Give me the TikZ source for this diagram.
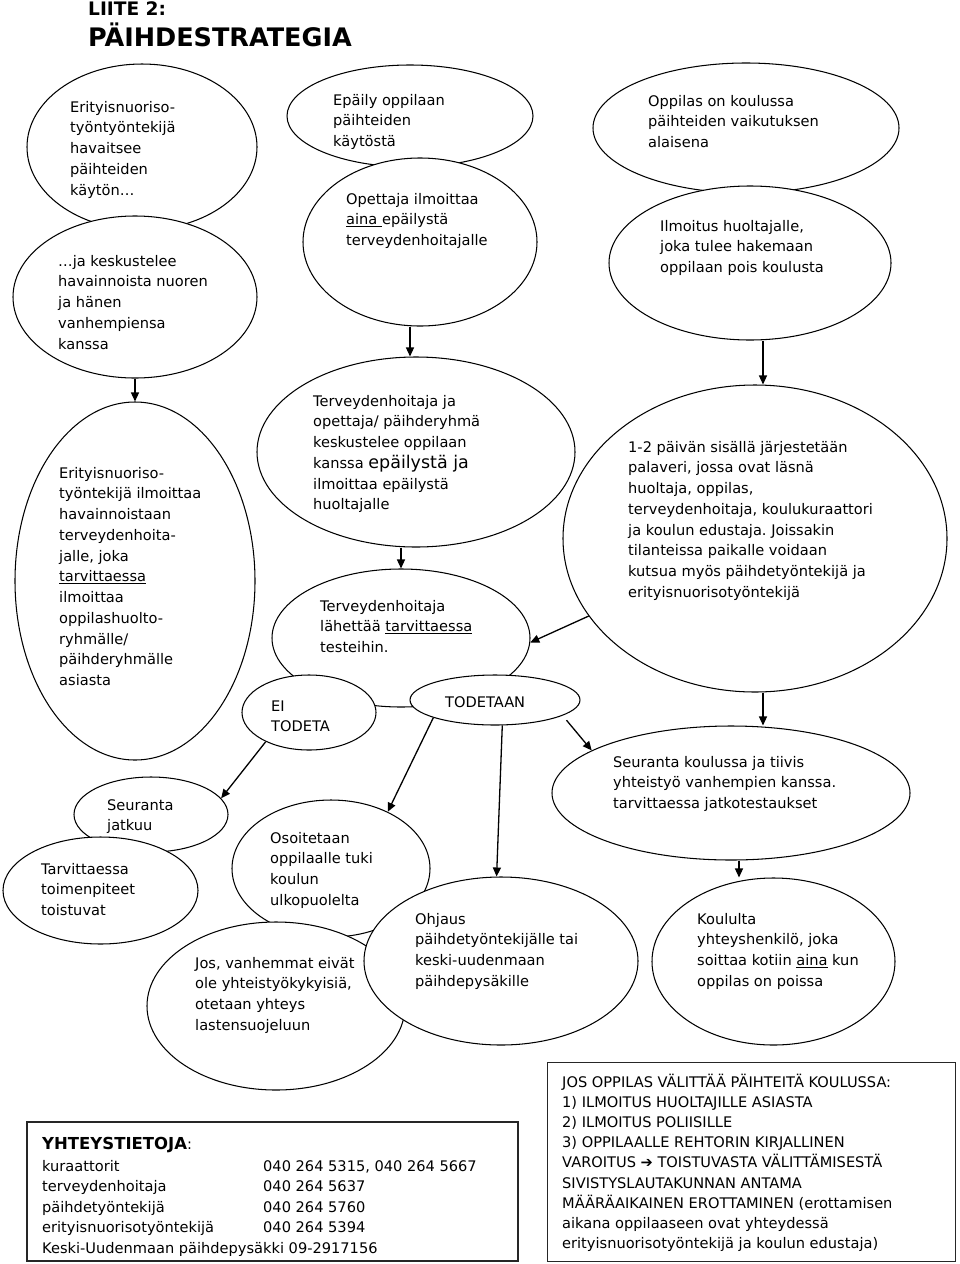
\documentclass[tikz,border=0pt]{standalone}
\usepackage{fontspec}
\setmainfont{DejaVu Sans}
\usetikzlibrary{arrows.meta,shapes.geometric}
\newcommand\mlines[1]{\begin{tabular}[t]{@{}l@{}}#1\end{tabular}}
\frenchspacing
\begin{document}
\begin{tikzpicture}[x=1pt,y=-1pt,
  ell/.style={ellipse,draw=black,line width=1.05pt,fill=white,inner sep=0pt},
  txt/.style={anchor=base west,inner sep=0pt,font=\fontsize{14.6}{20.75}\selectfont},
  arr/.style={line width=1.3pt,-{Triangle[length=9pt,width=8pt]}},
  boxline/.style={draw=black!85,line width=1.4pt}]
\useasboundingbox[fill=white] (0,0) rectangle (960,1264);
% title
\node[anchor=base west,inner sep=0pt,font=\bfseries\fontsize{18.6}{20}\selectfont] (tA) at (88,15) {LIITE 2:};
\node[anchor=base west,inner sep=0pt,font=\bfseries\fontsize{25.5}{28}\selectfont] (tB) at (88,46.5) {PÄIHDESTRATEGIA};
% ellipses
\node[ell,minimum width=230pt,minimum height=166pt] (e1) at (142,147) {};
\node[ell,minimum width=244pt,minimum height=162pt] (e2) at (135,297) {};
\node[ell,minimum width=246pt,minimum height=102pt] (e3) at (410,116) {};
\node[ell,minimum width=234pt,minimum height=168pt] (e4) at (420,242) {};
\node[ell,minimum width=306pt,minimum height=130pt] (e6) at (746,128) {};
\node[ell,minimum width=282pt,minimum height=154pt] (e7) at (750,263) {};
\node[ell,minimum width=240pt,minimum height=358pt] (e8) at (135,581) {};
\node[ell,minimum width=318pt,minimum height=190pt] (e5) at (416,452) {};
\node[ell,minimum width=258pt,minimum height=138pt] (e10) at (401,638) {};
\node[ell,minimum width=134pt,minimum height=75pt] (eEi) at (309,712.5) {};
\node[ell,minimum width=170pt,minimum height=50pt] (eTod) at (495,700) {};
\node[ell,minimum width=384pt,minimum height=307pt] (e9) at (755,538.5) {};
\node[ell,minimum width=358pt,minimum height=134pt] (e11) at (731,793) {};
\node[ell,minimum width=243pt,minimum height=167pt] (e12) at (773.5,961.5) {};
\node[ell,minimum width=154pt,minimum height=75pt] (sj) at (151,814.5) {};
\node[ell,minimum width=195pt,minimum height=107pt] (tt) at (100.5,890.5) {};
\node[ell,minimum width=198pt,minimum height=137pt] (os) at (331,868.5) {};
\node[ell,minimum width=258pt,minimum height=168pt] (jos) at (276,1006) {};
\node[ell,minimum width=274pt,minimum height=168pt] (oh) at (501,961) {};
% texts
\node[txt] (x1) at (70,112) {\mlines{Erityisnuoriso-\\työntyöntekijä\\havaitsee\\päihteiden\\käytön…}};
\node[txt] (x2) at (58,266) {\mlines{…ja keskustelee\\havainnoista nuoren\\ja hänen\\vanhempiensa\\kanssa}};
\node[txt] (x3) at (333,105) {\mlines{Epäily oppilaan\\päihteiden\\käytöstä}};
\node[txt] (x4) at (346,204) {\mlines{Opettaja ilmoittaa\\\underline{aina }epäilystä\\terveydenhoitajalle}};
\node[txt] (x6) at (648,106) {\mlines{Oppilas on koulussa\\päihteiden vaikutuksen\\alaisena}};
\node[txt] (x7) at (660,231) {\mlines{Ilmoitus huoltajalle,\\joka tulee hakemaan\\oppilaan pois koulusta}};
\node[txt] (x8) at (59,478) {\mlines{Erityisnuoriso-\\työntekijä ilmoittaa\\havainnoistaan\\terveydenhoita-\\jalle, joka\\\underline{tarvittaessa}\\ilmoittaa\\oppilashuolto-\\ryhmälle/\\päihderyhmälle\\asiasta}};
\node[txt] (x5) at (313,406) {\mlines{Terveydenhoitaja ja\\opettaja/ päihderyhmä\\keskustelee oppilaan\\kanssa {\fontsize{17.5}{20.75}\selectfont epäilystä ja}\\ilmoittaa epäilystä\\huoltajalle}};
\node[txt] (x10) at (320,611) {\mlines{Terveydenhoitaja\\lähettää \underline{tarvittaessa}\\testeihin.}};
\node[txt] (xEi) at (271,711) {\mlines{EI\\TODETA}};
\node[txt] (xTod) at (445,707) {TODETAAN};
\node[txt] (x9) at (628,452) {\mlines{1-2 päivän sisällä järjestetään\\palaveri, jossa ovat läsnä\\huoltaja, oppilas,\\terveydenhoitaja, koulukuraattori\\ja koulun edustaja. Joissakin\\tilanteissa paikalle voidaan\\kutsua myös päihdetyöntekijä ja\\erityisnuorisotyöntekijä}};
\node[txt] (x11) at (613,767) {\mlines{Seuranta koulussa ja tiivis\\yhteistyö vanhempien kanssa.\\tarvittaessa jatkotestaukset}};
\node[txt] (x12) at (697,924) {\mlines{Koululta\\yhteyshenkilö, joka\\soittaa kotiin \underline{aina} kun\\oppilas on poissa}};
\node[txt] (xoh) at (415,924) {\mlines{Ohjaus\\päihdetyöntekijälle tai\\keski-uudenmaan\\päihdepysäkille}};
\node[txt] (xsj) at (107,810) {\mlines{Seuranta\\jatkuu}};
\node[txt] (xtt) at (41,874) {\mlines{Tarvittaessa\\toimenpiteet\\toistuvat}};
\node[txt] (xos) at (270,843) {\mlines{Osoitetaan\\oppilaalle tuki\\koulun\\ulkopuolelta}};
\node[txt] (xjos) at (195,968) {\mlines{Jos, vanhemmat eivät\\ole yhteistyökykyisiä,\\otetaan yhteys\\lastensuojeluun}};
% connectors
\coordinate (xa) at (410,0);
\coordinate (xb) at (763,0);
\coordinate (xc) at (401,0);
\coordinate (xd) at (739,0);
\draw[arr] (e2.south) -- (e8.north);
\draw[arr] (e4.south -| xa) -- (e5.north -| xa);
\draw[arr] (e5.south -| xc) -- (e10.north -| xc);
\draw[arr] (e7.south -| xb) -- (e9.north -| xb);
\draw[arr] (e9.south -| xb) -- (e11.north -| xb);
\draw[arr] (e11.south -| xd) -- (e12.north -| xd);
\draw[arr] (e9.205) -- (e10.-2);
\draw[arr] (eEi.214) -- (sj.13);
\draw[arr] (eTod.196) -- (os.45);
\draw[arr] (eTod.-74) -- (oh.93);
\draw[arr,shorten <=6pt] (eTod.-13) -- (e11.163);
% contact box
\node[boxline,fill=white,anchor=north west,minimum width=490pt,minimum height=138pt,inner sep=0pt] (b1) at (27,1122) {};
\begin{scope}
\clip (27,1122) rectangle (517,1255.5);
\node[anchor=base west,inner sep=0pt] (h1) at (42,1149) {{\bfseries\fontsize{16.5}{20}\selectfont YHTEYSTIETOJA}{\fontsize{14.6}{20}\selectfont:}};
\node[anchor=base west,inner sep=0pt,font=\fontsize{14.6}{20.5}\selectfont] (c1) at (42,1171) {\begin{tabular}[t]{@{}p{221pt}@{}l@{}}
kuraattorit & 040 264 5315, 040 264 5667\\
terveydenhoitaja & 040 264 5637\\
päihdetyöntekijä & 040 264 5760\\
erityisnuorisotyöntekijä & 040 264 5394\\
\multicolumn{2}{@{}l@{}}{Keski-Uudenmaan päihdepysäkki 09-2917156}
\end{tabular}};
\end{scope}
\draw[boxline] (b1.north west) rectangle (b1.south east);
% rules box
\node[boxline,fill=white,anchor=north west,minimum width=408pt,minimum height=199pt,inner sep=0pt] (b2) at (547,1062) {};
\node[anchor=base west,inner sep=0pt,font=\fontsize{14.6}{20.2}\selectfont] (r1) at (562,1087) {\mlines{JOS OPPILAS VÄLITTÄÄ PÄIHTEITÄ KOULUSSA:\\1) ILMOITUS HUOLTAJILLE ASIASTA\\2) ILMOITUS POLIISILLE\\3) OPPILAALLE REHTORIN KIRJALLINEN\\VAROITUS ➔ TOISTUVASTA VÄLITTÄMISESTÄ\\SIVISTYSLAUTAKUNNAN ANTAMA\\MÄÄRÄAIKAINEN EROTTAMINEN (erottamisen\\aikana oppilaaseen ovat yhteydessä\\erityisnuorisotyöntekijä ja koulun edustaja)}};
\end{tikzpicture}
\end{document}
